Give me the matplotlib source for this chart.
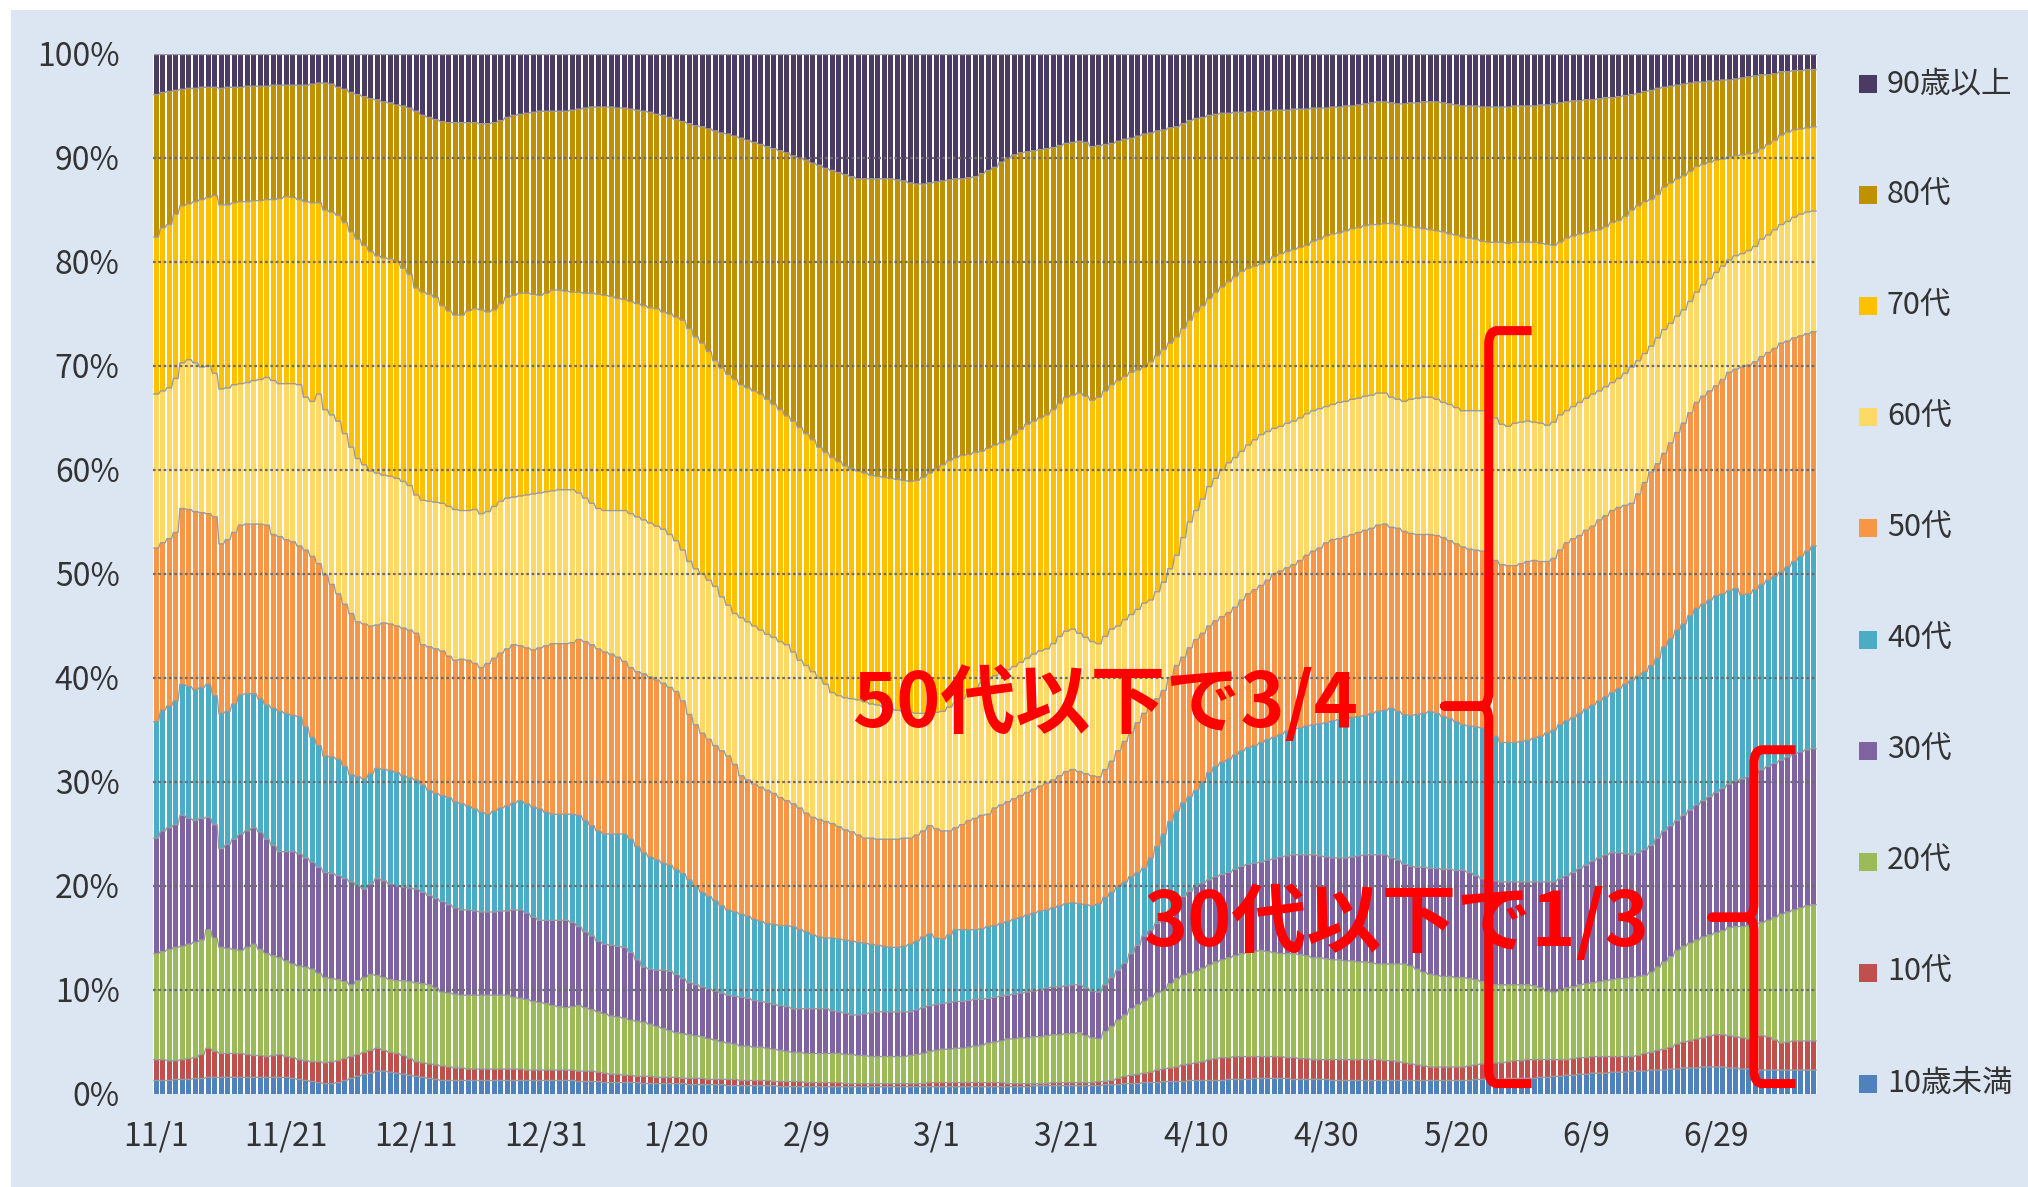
import numpy as np
import pandas as pd
import matplotlib
matplotlib.use("Agg")
import matplotlib.pyplot as plt
from matplotlib.patches import Rectangle, PathPatch
from matplotlib.path import Path

plt.rcParams['font.family'] = ['Noto Sans CJK JP', 'DejaVu Sans']

# ---------------- data (cumulative top edge of each age group, % of cases) ----------------
dates = pd.date_range("2020-11-01", "2021-07-14", freq="D")

groups = ["10歳未満", "10代", "20代", "30代", "40代", "50代", "60代", "70代", "80代", "90歳以上"]

top_under10 = [
    1.3, 1.3, 1.3, 1.4, 1.4, 1.4, 1.5, 1.5, 1.6, 1.6,
    1.6, 1.6, 1.6, 1.6, 1.6, 1.6, 1.6, 1.6, 1.6, 1.6,
    1.6, 1.5, 1.4, 1.3, 1.2, 1.1, 1.0, 1.0, 1.1, 1.3,
    1.5, 1.7, 1.9, 2.0, 2.2, 2.2, 2.1, 2.0, 1.9, 1.8,
    1.7, 1.6, 1.5, 1.4, 1.3, 1.3, 1.3, 1.3, 1.3, 1.3,
    1.3, 1.3, 1.3, 1.3, 1.3, 1.3, 1.3, 1.3, 1.3, 1.3,
    1.3, 1.3, 1.3, 1.3, 1.3, 1.2, 1.2, 1.2, 1.2, 1.1,
    1.1, 1.1, 1.1, 1.1, 1.1, 1.0, 1.0, 1.0, 1.0, 1.0,
    1.0, 1.0, 0.9, 0.9, 0.9, 0.9, 0.9, 0.9, 0.8, 0.8,
    0.8, 0.8, 0.8, 0.8, 0.8, 0.8, 0.7, 0.7, 0.7, 0.7,
    0.7, 0.7, 0.7, 0.7, 0.7, 0.7, 0.7, 0.7, 0.7, 0.7,
    0.7, 0.7, 0.7, 0.7, 0.7, 0.7, 0.7, 0.7, 0.7, 0.7,
    0.7, 0.7, 0.7, 0.7, 0.7, 0.7, 0.7, 0.7, 0.7, 0.7,
    0.7, 0.7, 0.7, 0.7, 0.7, 0.8, 0.8, 0.8, 0.8, 0.8,
    0.8, 0.8, 0.8, 0.8, 0.8, 0.8, 0.9, 0.9, 0.9, 1.0,
    1.0, 1.0, 1.1, 1.1, 1.1, 1.2, 1.2, 1.2, 1.2, 1.3,
    1.3, 1.3, 1.3, 1.3, 1.3, 1.4, 1.4, 1.4, 1.4, 1.5,
    1.5, 1.5, 1.5, 1.5, 1.5, 1.4, 1.4, 1.4, 1.4, 1.4,
    1.4, 1.3, 1.3, 1.3, 1.3, 1.3, 1.3, 1.3, 1.3, 1.3,
    1.3, 1.3, 1.3, 1.3, 1.3, 1.3, 1.3, 1.3, 1.3, 1.3,
    1.3, 1.3, 1.3, 1.4, 1.4, 1.4, 1.4, 1.4, 1.5, 1.5,
    1.5, 1.5, 1.5, 1.6, 1.6, 1.7, 1.7, 1.8, 1.8, 1.9,
    1.9, 2.0, 2.0, 2.0, 2.1, 2.1, 2.1, 2.2, 2.2, 2.2,
    2.3, 2.3, 2.3, 2.4, 2.4, 2.5, 2.5, 2.5, 2.6, 2.6,
    2.6, 2.6, 2.5, 2.5, 2.4, 2.4, 2.4, 2.3, 2.3, 2.3,
    2.3, 2.3, 2.3, 2.3, 2.3, 2.3,
]

top_10s = [
    3.3, 3.3, 3.2, 3.2, 3.3, 3.4, 3.5, 3.8, 4.4, 4.1,
    3.9, 3.9, 3.9, 3.9, 3.8, 3.7, 3.7, 3.6, 3.7, 3.8,
    3.6, 3.5, 3.3, 3.2, 3.1, 3.1, 3.0, 3.1, 3.2, 3.4,
    3.6, 3.8, 4.0, 4.2, 4.4, 4.2, 4.0, 3.9, 3.7, 3.4,
    3.1, 3.0, 2.9, 2.8, 2.7, 2.6, 2.5, 2.5, 2.4, 2.4,
    2.4, 2.4, 2.4, 2.4, 2.4, 2.4, 2.4, 2.3, 2.3, 2.3,
    2.3, 2.3, 2.3, 2.3, 2.3, 2.2, 2.2, 2.2, 2.1, 2.0,
    1.9, 1.9, 1.8, 1.8, 1.7, 1.7, 1.7, 1.6, 1.6, 1.6,
    1.6, 1.5, 1.5, 1.5, 1.5, 1.4, 1.4, 1.4, 1.4, 1.4,
    1.3, 1.3, 1.3, 1.3, 1.3, 1.2, 1.2, 1.2, 1.2, 1.2,
    1.1, 1.1, 1.1, 1.1, 1.1, 1.1, 1.0, 1.0, 1.0, 1.0,
    1.0, 1.0, 1.0, 1.0, 1.0, 1.0, 1.0, 1.0, 1.0, 1.1,
    1.1, 1.1, 1.1, 1.1, 1.1, 1.1, 1.1, 1.1, 1.1, 1.1,
    1.1, 1.0, 1.0, 1.0, 1.0, 1.0, 1.0, 1.0, 1.1, 1.1,
    1.1, 1.1, 1.1, 1.1, 1.1, 1.2, 1.2, 1.3, 1.5, 1.7,
    1.8, 1.9, 2.0, 2.1, 2.3, 2.4, 2.5, 2.6, 2.8, 2.9,
    3.0, 3.1, 3.3, 3.4, 3.5, 3.5, 3.6, 3.6, 3.6, 3.6,
    3.6, 3.6, 3.6, 3.6, 3.5, 3.5, 3.4, 3.4, 3.3, 3.3,
    3.3, 3.3, 3.3, 3.3, 3.3, 3.3, 3.3, 3.3, 3.3, 3.2,
    3.2, 3.1, 3.0, 2.9, 2.8, 2.7, 2.6, 2.6, 2.6, 2.6,
    2.6, 2.6, 2.7, 2.8, 2.9, 2.9, 3.0, 3.0, 3.1, 3.2,
    3.2, 3.3, 3.3, 3.3, 3.3, 3.3, 3.3, 3.3, 3.4, 3.5,
    3.5, 3.6, 3.6, 3.6, 3.6, 3.6, 3.6, 3.6, 3.7, 3.9,
    4.0, 4.2, 4.3, 4.5, 4.8, 5.0, 5.1, 5.3, 5.4, 5.6,
    5.7, 5.7, 5.6, 5.5, 5.4, 5.3, 5.4, 5.6, 5.5, 5.2,
    4.9, 5.0, 5.1, 5.1, 5.1, 5.1,
]

top_20s = [
    13.5, 13.7, 13.9, 14.1, 14.2, 14.4, 14.6, 14.8, 15.8, 15.0,
    14.1, 14.0, 13.9, 13.8, 14.1, 14.4, 13.9, 13.5, 13.3, 13.1,
    12.8, 12.5, 12.3, 12.2, 12.0, 11.6, 11.2, 11.1, 11.0, 10.8,
    10.5, 10.9, 11.2, 11.5, 11.4, 11.2, 11.0, 10.9, 10.9, 10.8,
    10.7, 10.6, 10.5, 10.2, 9.8, 9.7, 9.6, 9.5, 9.5, 9.5,
    9.5, 9.5, 9.5, 9.5, 9.5, 9.3, 9.2, 9.1, 8.9, 8.8,
    8.7, 8.5, 8.4, 8.3, 8.4, 8.5, 8.3, 8.1, 7.9, 7.7,
    7.5, 7.4, 7.3, 7.1, 7.0, 6.9, 6.7, 6.5, 6.3, 6.1,
    5.9, 5.8, 5.7, 5.6, 5.5, 5.3, 5.2, 5.0, 4.9, 4.8,
    4.6, 4.6, 4.5, 4.5, 4.4, 4.3, 4.2, 4.1, 4.0, 4.0,
    3.9, 3.9, 3.9, 3.9, 3.9, 3.9, 3.8, 3.8, 3.7, 3.7,
    3.6, 3.6, 3.6, 3.6, 3.6, 3.6, 3.7, 3.8, 3.9, 4.1,
    4.2, 4.3, 4.3, 4.4, 4.4, 4.5, 4.6, 4.7, 4.9, 5.0,
    5.1, 5.3, 5.3, 5.4, 5.4, 5.5, 5.5, 5.6, 5.7, 5.7,
    5.8, 5.8, 5.9, 5.6, 5.4, 5.3, 6.0, 6.5, 7.1, 7.6,
    8.2, 8.6, 8.9, 9.3, 9.7, 10.0, 10.6, 11.1, 11.4, 11.6,
    11.8, 12.1, 12.4, 12.7, 12.9, 13.1, 13.3, 13.5, 13.6, 13.7,
    13.8, 13.7, 13.6, 13.5, 13.5, 13.5, 13.4, 13.3, 13.1, 13.1,
    13.0, 12.9, 12.9, 12.8, 12.8, 12.7, 12.7, 12.6, 12.5, 12.5,
    12.5, 12.5, 12.5, 12.3, 12.0, 11.7, 11.5, 11.4, 11.3, 11.3,
    11.2, 11.2, 11.1, 11.0, 10.8, 10.7, 10.5, 10.5, 10.5, 10.5,
    10.5, 10.5, 10.4, 10.2, 9.9, 9.8, 10.0, 10.2, 10.3, 10.5,
    10.6, 10.7, 10.8, 10.9, 11.0, 11.1, 11.1, 11.2, 11.3, 11.4,
    11.7, 12.2, 12.7, 13.2, 13.8, 14.2, 14.5, 14.8, 15.1, 15.3,
    15.5, 15.7, 16.0, 16.1, 16.1, 16.2, 16.3, 16.5, 16.7, 17.0,
    17.3, 17.5, 17.7, 17.9, 18.1, 18.2,
]

top_30s = [
    24.6, 25.3, 25.6, 25.9, 26.8, 26.5, 26.3, 26.5, 26.6, 25.9,
    23.6, 24.0, 24.5, 25.0, 25.3, 25.6, 25.2, 24.5, 23.9, 23.3,
    23.3, 23.3, 23.1, 22.7, 22.3, 21.8, 21.3, 21.2, 21.0, 20.7,
    20.4, 20.0, 19.7, 20.2, 20.7, 20.5, 20.2, 20.0, 19.9, 19.8,
    19.7, 19.4, 19.1, 18.8, 18.5, 18.2, 17.9, 17.7, 17.7, 17.6,
    17.5, 17.5, 17.5, 17.6, 17.6, 17.7, 17.7, 17.4, 17.0, 16.7,
    16.7, 16.7, 16.7, 16.7, 16.5, 16.1, 15.6, 15.2, 14.7, 14.4,
    14.3, 14.2, 14.1, 13.6, 12.9, 12.2, 12.0, 11.9, 11.9, 11.8,
    11.5, 11.1, 10.7, 10.5, 10.3, 10.1, 9.9, 9.7, 9.5, 9.4,
    9.3, 9.2, 9.0, 8.9, 8.8, 8.6, 8.5, 8.4, 8.2, 8.2,
    8.2, 8.2, 8.2, 8.2, 8.0, 7.9, 7.8, 7.6, 7.6, 7.7,
    7.8, 7.9, 7.9, 7.9, 7.9, 7.9, 7.9, 8.1, 8.3, 8.5,
    8.6, 8.7, 8.8, 8.9, 8.9, 9.0, 9.1, 9.1, 9.2, 9.3,
    9.4, 9.5, 9.6, 9.7, 9.8, 9.9, 10.0, 10.2, 10.3, 10.3,
    10.4, 10.5, 10.5, 10.2, 9.9, 9.8, 10.5, 11.2, 11.9, 12.6,
    13.5, 14.3, 15.2, 15.8, 16.4, 16.9, 17.7, 18.5, 19.0, 19.5,
    20.0, 20.3, 20.6, 20.9, 21.1, 21.3, 21.6, 21.9, 22.1, 22.2,
    22.3, 22.5, 22.6, 22.8, 22.9, 23.0, 23.0, 23.0, 23.0, 22.9,
    22.8, 22.7, 22.7, 22.7, 22.8, 22.9, 23.0, 23.0, 23.0, 23.0,
    22.7, 22.5, 22.1, 21.9, 21.8, 21.8, 21.7, 21.7, 21.6, 21.6,
    21.5, 21.5, 21.3, 21.0, 20.7, 20.6, 20.5, 20.4, 20.4, 20.4,
    20.4, 20.4, 20.4, 20.4, 20.4, 20.4, 20.7, 21.0, 21.3, 21.7,
    22.0, 22.4, 22.7, 23.0, 23.2, 23.2, 23.1, 23.0, 23.2, 23.5,
    23.9, 24.6, 25.3, 25.8, 26.3, 26.8, 27.3, 27.8, 28.2, 28.6,
    29.0, 29.4, 29.8, 30.1, 30.3, 30.5, 30.8, 31.2, 31.5, 31.8,
    32.1, 32.4, 32.7, 32.9, 33.1, 33.2,
]

top_40s = [
    35.8, 36.9, 37.3, 37.8, 39.4, 39.2, 38.9, 39.1, 39.4, 38.3,
    36.6, 36.8, 37.5, 38.4, 38.5, 38.5, 38.0, 37.4, 37.1, 36.8,
    36.6, 36.4, 36.3, 35.3, 34.3, 33.5, 32.5, 32.4, 32.2, 31.5,
    30.7, 30.5, 30.3, 30.8, 31.3, 31.2, 31.1, 30.9, 30.6, 30.4,
    30.2, 29.7, 29.2, 28.9, 28.7, 28.5, 28.1, 27.9, 27.7, 27.4,
    27.1, 26.9, 27.2, 27.5, 27.7, 28.0, 28.2, 27.9, 27.6, 27.4,
    27.1, 26.9, 26.9, 26.9, 26.9, 26.8, 26.3, 25.8, 25.3, 25.0,
    25.0, 25.0, 25.0, 24.5, 23.8, 23.2, 22.8, 22.5, 22.2, 22.0,
    21.6, 21.2, 20.6, 20.0, 19.4, 19.0, 18.6, 18.1, 17.7, 17.5,
    17.3, 17.1, 16.8, 16.6, 16.4, 16.3, 16.2, 16.2, 16.1, 15.8,
    15.6, 15.3, 15.1, 15.0, 15.0, 14.9, 14.8, 14.7, 14.6, 14.5,
    14.4, 14.3, 14.2, 14.1, 14.1, 14.2, 14.4, 14.7, 15.1, 15.4,
    15.0, 14.9, 15.3, 15.8, 15.8, 15.8, 15.8, 15.9, 16.1, 16.2,
    16.4, 16.6, 16.8, 17.0, 17.2, 17.4, 17.6, 17.7, 17.9, 18.1,
    18.3, 18.4, 18.3, 18.2, 18.1, 18.3, 18.9, 19.4, 19.9, 20.4,
    20.9, 21.3, 21.7, 22.7, 23.8, 25.0, 26.2, 27.2, 28.0, 28.6,
    29.2, 30.0, 30.9, 31.5, 31.9, 32.2, 32.6, 33.0, 33.3, 33.5,
    33.8, 34.1, 34.3, 34.6, 34.9, 35.1, 35.2, 35.4, 35.5, 35.6,
    35.7, 35.9, 36.0, 36.1, 36.2, 36.3, 36.4, 36.6, 36.8, 36.9,
    37.1, 36.8, 36.5, 36.4, 36.5, 36.6, 36.8, 36.6, 36.3, 36.1,
    35.8, 35.5, 35.4, 35.3, 35.2, 35.0, 34.4, 33.8, 33.8, 33.8,
    33.9, 34.0, 34.2, 34.4, 34.7, 35.0, 35.5, 35.9, 36.2, 36.6,
    37.0, 37.4, 37.8, 38.2, 38.6, 39.0, 39.4, 39.8, 40.2, 40.6,
    41.2, 41.9, 43.0, 43.8, 44.6, 45.2, 46.0, 46.7, 47.1, 47.5,
    47.9, 48.1, 48.4, 48.6, 48.0, 48.1, 48.5, 49.0, 49.4, 49.8,
    50.2, 50.7, 51.2, 51.7, 52.2, 52.7,
]

top_50s = [
    52.5, 53.0, 53.4, 54.0, 56.3, 56.2, 56.0, 55.9, 55.8, 55.5,
    52.9, 53.3, 54.0, 54.7, 54.8, 54.8, 54.8, 54.7, 53.8, 53.6,
    53.3, 53.1, 52.7, 52.3, 51.7, 51.0, 49.9, 49.0, 48.1, 47.1,
    46.2, 45.4, 45.2, 45.0, 45.1, 45.3, 45.2, 45.0, 44.8, 44.6,
    44.3, 43.2, 43.0, 42.8, 42.6, 42.1, 41.7, 41.8, 41.7, 41.4,
    41.0, 41.4, 41.9, 42.4, 42.8, 43.2, 43.1, 42.9, 42.7, 42.9,
    43.1, 43.3, 43.3, 43.3, 43.4, 43.7, 43.5, 43.2, 42.8, 42.5,
    42.3, 42.0, 41.6, 41.0, 40.6, 40.4, 40.1, 39.8, 39.5, 39.1,
    38.7, 37.8, 36.5, 35.5, 34.7, 34.1, 33.5, 33.0, 32.5, 31.7,
    30.6, 30.2, 29.8, 29.5, 29.2, 28.9, 28.5, 28.2, 27.9, 27.5,
    27.0, 26.6, 26.4, 26.2, 26.0, 25.7, 25.4, 25.2, 24.9, 24.6,
    24.6, 24.5, 24.5, 24.5, 24.5, 24.6, 24.6, 24.9, 25.3, 25.8,
    25.5, 25.3, 25.3, 25.6, 25.9, 26.3, 26.5, 26.8, 26.9, 27.5,
    27.8, 28.1, 28.4, 28.7, 29.0, 29.3, 29.6, 29.9, 30.2, 30.6,
    31.0, 31.2, 31.0, 30.8, 30.6, 30.5, 31.2, 32.0, 33.0, 33.9,
    34.8, 35.7, 36.6, 37.4, 38.0, 38.8, 40.0, 41.2, 42.0, 42.9,
    43.7, 44.3, 45.0, 45.5, 45.9, 46.3, 46.8, 47.5, 48.1, 48.5,
    48.9, 49.4, 50.0, 50.3, 50.6, 50.9, 51.3, 51.8, 52.2, 52.5,
    53.0, 53.3, 53.4, 53.6, 53.8, 54.0, 54.2, 54.4, 54.7, 54.8,
    54.5, 54.4, 54.1, 53.9, 53.8, 53.8, 53.8, 53.7, 53.5, 53.2,
    52.9, 52.6, 52.4, 52.3, 52.2, 51.9, 51.3, 50.9, 50.8, 50.8,
    51.0, 51.2, 51.3, 51.2, 51.2, 51.5, 52.3, 53.0, 53.4, 53.7,
    54.2, 54.6, 55.2, 55.6, 56.1, 56.4, 56.6, 56.8, 57.7, 58.8,
    59.8, 60.6, 61.6, 62.6, 63.6, 64.5, 65.5, 66.5, 67.1, 67.6,
    68.1, 68.7, 69.4, 69.7, 69.9, 70.1, 70.4, 70.9, 71.3, 71.7,
    72.2, 72.4, 72.7, 72.9, 73.1, 73.3,
]

top_60s = [
    67.3, 67.6, 67.9, 68.8, 70.3, 70.6, 70.3, 69.9, 70.0, 69.3,
    67.8, 67.9, 68.2, 68.3, 68.4, 68.6, 68.7, 68.9, 68.6, 68.3,
    68.3, 68.3, 68.2, 67.0, 66.6, 67.3, 65.8, 65.3, 64.7, 63.5,
    62.2, 61.1, 60.5, 59.9, 59.7, 59.5, 59.4, 59.2, 58.9, 58.5,
    57.6, 57.1, 57.0, 56.9, 56.8, 56.5, 56.2, 56.1, 56.1, 56.2,
    55.8, 56.0, 56.5, 57.0, 57.3, 57.4, 57.5, 57.6, 57.7, 57.8,
    57.9, 58.0, 58.1, 58.1, 58.1, 57.8, 57.3, 56.8, 56.3, 56.1,
    56.1, 56.1, 56.1, 55.8, 55.5, 55.2, 54.9, 54.6, 54.3, 53.8,
    53.2, 52.3, 51.2, 50.5, 50.0, 49.4, 48.8, 47.8, 47.0, 46.2,
    45.8, 45.4, 45.0, 44.6, 44.2, 43.9, 43.5, 43.2, 42.5, 41.7,
    41.2, 40.6, 40.0, 39.4, 38.6, 38.3, 38.1, 38.0, 37.9, 37.7,
    37.5, 37.4, 37.2, 37.0, 36.9, 36.8, 36.7, 36.6, 36.6, 36.6,
    36.7, 36.8, 37.2, 37.6, 38.0, 38.5, 39.0, 39.5, 39.9, 40.2,
    40.5, 40.8, 41.1, 41.5, 41.9, 42.3, 42.6, 42.8, 43.3, 44.0,
    44.5, 44.7, 44.3, 43.9, 43.5, 43.3, 44.0, 44.7, 45.0, 45.6,
    46.1, 46.6, 47.2, 47.5, 48.3, 49.2, 50.5, 51.8, 53.5, 55.0,
    56.1, 57.2, 58.4, 59.2, 60.0, 60.7, 61.2, 61.8, 62.4, 62.9,
    63.4, 63.7, 64.0, 64.2, 64.5, 64.7, 65.0, 65.4, 65.7, 65.9,
    66.1, 66.3, 66.5, 66.6, 66.8, 66.9, 67.1, 67.2, 67.4, 67.4,
    67.0, 66.8, 66.6, 66.8, 66.9, 67.0, 67.0, 66.8, 66.5, 66.3,
    66.0, 65.7, 65.7, 65.7, 65.7, 65.5, 65.0, 64.4, 64.2, 64.5,
    64.6, 64.7, 64.6, 64.5, 64.3, 64.6, 65.3, 65.7, 66.1, 66.5,
    66.9, 67.3, 67.6, 68.0, 68.4, 68.8, 69.3, 69.9, 70.5, 71.2,
    71.9, 72.7, 73.5, 74.1, 74.8, 75.4, 76.2, 77.1, 77.8, 78.4,
    79.0, 79.6, 80.2, 80.6, 80.8, 81.1, 81.5, 82.2, 82.6, 83.1,
    83.6, 83.9, 84.3, 84.6, 84.8, 84.9,
]

top_70s = [
    82.4, 83.3, 83.6, 84.6, 85.4, 85.6, 85.8, 86.0, 86.2, 86.4,
    85.5, 85.5, 85.7, 85.8, 85.8, 85.9, 85.9, 86.0, 86.0, 86.1,
    86.3, 86.2, 86.0, 85.8, 85.7, 85.7, 85.0, 84.8, 84.5, 83.8,
    82.9, 82.2, 81.6, 81.0, 80.6, 80.4, 80.3, 80.0, 79.4, 78.8,
    77.5, 77.1, 76.9, 76.6, 75.8, 75.3, 74.9, 74.9, 75.3, 75.5,
    75.4, 75.2, 75.4, 76.0, 76.6, 76.8, 77.0, 77.0, 76.9, 76.8,
    77.0, 77.3, 77.3, 77.2, 77.1, 77.1, 77.0, 77.0, 76.9, 76.8,
    76.7, 76.5, 76.4, 76.2, 76.0, 75.8, 75.6, 75.5, 75.2, 75.0,
    74.7, 74.4, 73.6, 72.8, 72.2, 71.4, 70.5, 69.8, 69.2, 68.7,
    68.2, 67.9, 67.6, 67.3, 66.8, 66.3, 65.8, 65.2, 64.7, 64.1,
    63.5, 62.9, 62.2, 61.7, 61.2, 60.8, 60.4, 60.1, 59.9, 59.7,
    59.5, 59.4, 59.3, 59.2, 59.1, 59.0, 58.9, 59.0, 59.3, 59.7,
    60.1, 60.5, 60.9, 61.2, 61.4, 61.5, 61.7, 61.8, 62.1, 62.4,
    62.6, 62.9, 63.4, 63.9, 64.4, 64.7, 65.0, 65.3, 65.8, 66.4,
    67.0, 67.2, 67.4, 67.1, 66.7, 67.0, 67.6, 68.2, 68.6, 69.0,
    69.4, 69.6, 69.9, 70.4, 71.0, 71.6, 72.2, 72.8, 73.6, 74.4,
    75.2, 75.8, 76.5, 77.1, 77.6, 78.1, 78.6, 79.1, 79.4, 79.6,
    79.8, 80.1, 80.5, 80.8, 81.0, 81.2, 81.4, 81.6, 82.0, 82.2,
    82.5, 82.7, 82.8, 83.0, 83.2, 83.3, 83.5, 83.6, 83.6, 83.7,
    83.7, 83.6, 83.5, 83.4, 83.3, 83.2, 83.1, 83.0, 82.9, 82.7,
    82.6, 82.4, 82.3, 82.2, 82.0, 81.9, 81.9, 81.9, 81.8, 81.9,
    81.9, 81.9, 81.9, 81.8, 81.7, 81.6, 81.9, 82.3, 82.5, 82.7,
    82.8, 83.0, 83.1, 83.4, 83.8, 84.0, 84.4, 85.0, 85.4, 85.8,
    86.0, 86.5, 87.2, 87.6, 88.0, 88.3, 88.7, 89.2, 89.4, 89.6,
    89.8, 89.9, 90.1, 90.2, 90.3, 90.4, 90.5, 90.9, 91.3, 91.7,
    92.2, 92.5, 92.7, 92.8, 92.9, 93.0,
]

top_80s = [
    96.1, 96.3, 96.4, 96.5, 96.6, 96.7, 96.7, 96.8, 96.8, 96.8,
    96.7, 96.8, 96.8, 96.8, 96.9, 96.9, 96.9, 96.9, 97.0, 97.0,
    97.0, 97.0, 97.0, 97.0, 97.1, 97.2, 97.2, 97.1, 96.8, 96.6,
    96.3, 96.1, 95.9, 95.7, 95.6, 95.4, 95.3, 95.1, 95.0, 94.8,
    94.5, 94.1, 93.9, 93.7, 93.5, 93.4, 93.4, 93.4, 93.4, 93.4,
    93.3, 93.3, 93.4, 93.6, 93.9, 94.1, 94.2, 94.3, 94.4, 94.5,
    94.5, 94.5, 94.5, 94.5, 94.6, 94.7, 94.8, 94.9, 94.9, 94.9,
    94.9, 94.8, 94.8, 94.7, 94.6, 94.5, 94.4, 94.2, 94.1, 93.9,
    93.7, 93.5, 93.3, 93.1, 93.0, 92.8, 92.6, 92.4, 92.3, 92.1,
    91.9, 91.7, 91.5, 91.3, 91.1, 90.9, 90.7, 90.5, 90.2, 90.0,
    89.8, 89.5, 89.3, 89.0, 88.8, 88.6, 88.4, 88.2, 88.0, 88.0,
    88.0, 88.0, 88.0, 88.0, 87.9, 87.8, 87.6, 87.5, 87.5, 87.6,
    87.7, 87.8, 87.9, 88.0, 88.0, 88.1, 88.2, 88.5, 88.8, 89.1,
    89.6, 90.0, 90.3, 90.5, 90.6, 90.7, 90.8, 90.9, 91.0, 91.2,
    91.4, 91.5, 91.6, 91.5, 91.1, 91.2, 91.3, 91.4, 91.6, 91.8,
    91.9, 92.1, 92.3, 92.4, 92.6, 92.7, 92.9, 93.0, 93.3, 93.6,
    93.8, 93.9, 94.1, 94.2, 94.3, 94.3, 94.4, 94.4, 94.4, 94.5,
    94.5, 94.5, 94.6, 94.6, 94.6, 94.7, 94.7, 94.7, 94.8, 94.8,
    94.8, 94.9, 94.9, 95.0, 95.0, 95.1, 95.2, 95.3, 95.4, 95.4,
    95.3, 95.2, 95.2, 95.3, 95.3, 95.4, 95.4, 95.4, 95.3, 95.2,
    95.1, 95.0, 95.0, 95.0, 94.9, 94.9, 94.9, 94.9, 94.9, 95.0,
    95.0, 95.0, 95.0, 95.1, 95.1, 95.2, 95.3, 95.4, 95.5, 95.5,
    95.6, 95.6, 95.7, 95.8, 95.8, 95.9, 96.0, 96.1, 96.2, 96.4,
    96.5, 96.7, 96.8, 96.9, 97.0, 97.1, 97.2, 97.3, 97.3, 97.4,
    97.4, 97.5, 97.5, 97.6, 97.7, 97.8, 97.9, 98.0, 98.0, 98.1,
    98.3, 98.3, 98.4, 98.4, 98.5, 98.5,
]

top_90plus = [100.0] * 256  # 100% stacked chart: the last group always reaches 100

tick_labels = ["11/1", "11/21", "12/11", "12/31", "1/20", "2/9", "3/1",
               "3/21", "4/10", "4/30", "5/20", "6/9", "6/29"]

colors = ["#4F81BD", "#C0504D", "#9BBB59", "#8064A2", "#4BACC6",
          "#F79646", "#FFD966", "#FFC000", "#BF9000", "#4B3A62"]

tops = [top_under10, top_10s, top_20s, top_30s, top_40s,
        top_50s, top_60s, top_70s, top_80s, top_90plus]
for t in tops:
    assert len(t) == len(dates), len(t)

# ---------------- figure ----------------
W, H = 2028, 1187
DPI = 100
fig = plt.figure(figsize=(W / DPI, H / DPI), dpi=DPI, facecolor="white")
fig.add_artist(Rectangle((11 / W, 0), 1 - 11 / W, 1 - 10 / H, transform=fig.transFigure,
                         facecolor="#DCE6F2", edgecolor="none", zorder=-10))

ax = fig.add_axes([153 / W, (H - 1094) / H, 1664 / W, 1040 / H])
ax.set_facecolor("white")

x = np.arange(len(dates))
tops_arr = np.array(tops, dtype=float)
bottoms = np.vstack([np.zeros(len(x)), tops_arr[:-1]])
heights = tops_arr - bottoms

bw = 0.72
for i in range(len(groups)):
    ax.bar(x, heights[i], bottom=bottoms[i], width=bw, color=colors[i],
           linewidth=0, zorder=2)

# series lines (outline of each stack boundary)
xs = np.column_stack([x - bw / 2, x + bw / 2]).ravel()
for i in range(len(groups)):
    ys = np.repeat(tops_arr[i], 2)
    ax.plot(xs, ys, color="#9a9a9a", lw=1.0, zorder=3, solid_joinstyle="miter")

# dotted gridlines, visible over the bars
for gy in range(10, 100, 10):
    ax.axhline(gy, color="#6b6b6b", lw=1.6, linestyle=(0, (1.2, 1.2)), zorder=4)

ax.set_xlim(-0.5, len(x) - 0.5)
ax.set_ylim(0, 100)
ax.set_yticks(np.arange(0, 101, 10))
ax.set_yticklabels([f"{v}%" for v in range(0, 101, 10)])
ax.set_xticks(np.arange(0, len(tick_labels) * 20, 20))
ax.set_xticklabels(tick_labels)
ax.tick_params(axis="both", length=0, labelsize=23, colors="#333333")
ax.tick_params(axis="y", pad=24)
ax.tick_params(axis="x", pad=19)
for s in ax.spines.values():
    s.set_visible(False)

# legend (manual, top = 90歳以上)
for k, (name, col) in enumerate(zip(groups[::-1], colors[::-1])):
    yc = 84 + 111.1 * k
    fig.add_artist(Rectangle((1859 / W, 1 - (yc + 9) / H), 18 / W, 18 / H,
                             transform=fig.transFigure, facecolor=col, edgecolor="none"))
    fig.text(1887 / W, 1 - yc / H, name, fontsize=22, color="#333333",
             va="center", ha="left")

# annotations
ax.text(146, 37.4, "50代以下で3/4", color="#FF0000", fontsize=54, fontweight="bold",
        ha="center", va="center", zorder=10)
ax.text(190.7, 16.4, "30代以下で1/3", color="#FF0000", fontsize=54, fontweight="bold",
        ha="center", va="center", zorder=10)


def brace(xv, xtip, xend, ytop, ybot, ymid, rx=1.3, ry=1.3):
    verts = [(xend, ytop), (xv + rx, ytop), (xv, ytop), (xv, ytop - ry),
             (xv, ymid + ry), (xv, ymid), (xv - rx, ymid), (xtip, ymid),
             (xv - rx, ymid), (xv, ymid), (xv, ymid - ry),
             (xv, ybot + ry), (xv, ybot), (xv + rx, ybot), (xend, ybot)]
    codes = [Path.MOVETO, Path.LINETO, Path.CURVE3, Path.CURVE3,
             Path.LINETO, Path.CURVE3, Path.CURVE3, Path.LINETO,
             Path.LINETO, Path.CURVE3, Path.CURVE3,
             Path.LINETO, Path.CURVE3, Path.CURVE3, Path.LINETO]
    ax.add_patch(PathPatch(Path(verts, codes), fill=False, edgecolor="#FF0000",
                           lw=6.5, capstyle="butt", joinstyle="round",
                           clip_on=False, zorder=11))


brace(205.0, 198.2, 211.6, 73.4, 1.0, 37.3)
brace(245.8, 239.3, 252.2, 33.1, 1.0, 17.0)

fig.savefig("out.png", dpi=DPI, facecolor=fig.get_facecolor())
